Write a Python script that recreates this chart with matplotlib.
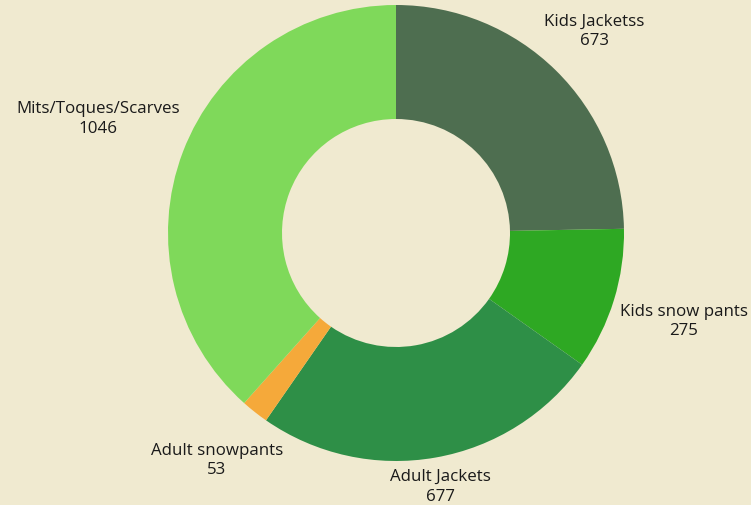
import numpy as np
import matplotlib.pyplot as plt

## data ##
categories = ['Kids Jacketss', 'Kids snow pants', 'Adult Jackets', 'Adult snowpants', 'Mits/Toques/Scarves']
counts = [673, 275, 677, 53, 1046]
colours = ['#4E6E50', '#2EA823', '#2E8F47', '#F5A93A', '#7FD95A']
label_dist = [1.24, 1.32, 1.13, 1.27, 1.40]  # how far out each label sits
bg = '#F0EAD0'

fig = plt.figure(figsize=(7.51, 5.05), dpi=100, facecolor=bg)
ax = fig.add_axes([168/751, 44/505, 456/751, 456/505])
ax.set_facecolor(bg)

wedges, _ = ax.pie(counts, colors=colours, startangle=90, counterclock=False,
                   radius=1, wedgeprops=dict(width=0.5, edgecolor='none'))

for w, name, n, d in zip(wedges, categories, counts, label_dist):
    mid = np.deg2rad((w.theta1 + w.theta2) / 2)
    x, y = d*np.cos(mid), d*np.sin(mid)
    ax.text(x, y, name + '\n' + str(n), ha='center', va='center',
            fontsize=12.2, family='Open Sans', color='#1a1a1a', linespacing=1.3)

ax.set_xlim(-1, 1)
ax.set_ylim(-1, 1)
ax.set_aspect('equal')
ax.axis('off')

fig.savefig('out.png', dpi=100, facecolor=bg)
